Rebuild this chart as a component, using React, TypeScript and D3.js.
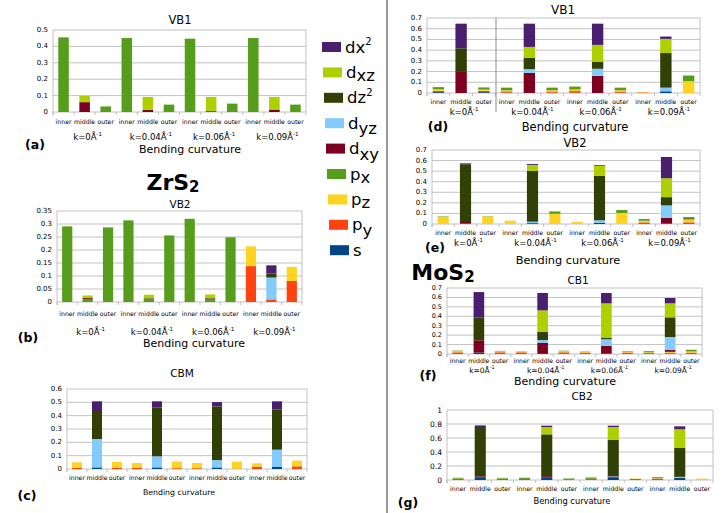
import React from 'react';
import * as d3 from 'd3';

// series order is the stacking order, bottom to top
const orbitals = ['s', 'py', 'pz', 'px', 'dxy', 'dyz', 'dz2', 'dxz', 'dx2'];
const orbitalColors = ['#004586', '#ff420e', '#ffd320', '#579d1c', '#7e0021', '#83caff', '#314004', '#aecf00', '#4b1f6f'];
const positions = ['inner', 'middle', 'outer'];
const curvatures = ['0', '0.04', '0.06', '0.09'];
const categories = curvatures.flatMap(k => positions.map(p => `${k}-${p}`));

// each panel: one row per orbital (same order as `orbitals`), one column per category
const zrs2VB1 = [
  [0, 0, 0, 0, 0, 0, 0, 0, 0, 0, 0, 0],
  [0, 0, 0, 0, 0, 0, 0, 0, 0, 0, 0, 0],
  [0, 0, 0, 0, 0, 0, 0, 0, 0, 0, 0, 0],
  [0.455, 0, 0.034, 0.451, 0, 0.045, 0.447, 0, 0.051, 0.451, 0, 0.045],
  [0, 0.06, 0, 0, 0.013, 0, 0, 0.005, 0, 0, 0.015, 0],
  [0, 0, 0, 0, 0, 0, 0, 0, 0, 0, 0, 0],
  [0, 0, 0, 0, 0, 0, 0, 0, 0, 0, 0, 0],
  [0, 0.038, 0, 0, 0.079, 0, 0, 0.087, 0, 0, 0.077, 0],
  [0, 0, 0, 0, 0, 0, 0, 0, 0, 0, 0, 0],
];
const zrs2VB2 = [
  [0, 0, 0, 0, 0, 0, 0, 0, 0, 0, 0, 0],
  [0, 0, 0, 0, 0, 0, 0, 0, 0, 0.138, 0.01, 0.081],
  [0, 0, 0, 0, 0, 0, 0, 0, 0, 0.076, 0, 0.054],
  [0.291, 0.011, 0.287, 0.314, 0.014, 0.256, 0.32, 0.013, 0.249, 0, 0, 0],
  [0, 0.004, 0, 0, 0.001, 0, 0, 0.002, 0, 0, 0, 0],
  [0, 0, 0, 0, 0, 0, 0, 0, 0, 0, 0.084, 0],
  [0, 0, 0, 0, 0, 0, 0, 0, 0, 0, 0.015, 0],
  [0, 0.01, 0, 0, 0.013, 0, 0, 0.014, 0, 0, 0, 0],
  [0, 0, 0, 0, 0, 0, 0, 0, 0, 0, 0.032, 0],
];
const zrs2CBM = [
  [0, 0.012, 0, 0, 0.012, 0, 0, 0.012, 0, 0, 0.015, 0],
  [0.01, 0, 0.01, 0.008, 0, 0.006, 0.006, 0, 0.003, 0.0175, 0, 0.02],
  [0.04, 0, 0.0425, 0.037, 0, 0.05, 0.039, 0, 0.052, 0.025, 0, 0.0425],
  [0, 0, 0, 0, 0, 0, 0, 0, 0, 0, 0, 0],
  [0, 0, 0, 0, 0, 0, 0, 0, 0, 0, 0, 0],
  [0, 0.213, 0, 0, 0.083, 0, 0, 0.055, 0, 0, 0.13, 0],
  [0, 0.2025, 0, 0, 0.3675, 0, 0, 0.4025, 0, 0, 0.3, 0],
  [0, 0, 0, 0, 0, 0, 0, 0, 0, 0, 0, 0],
  [0, 0.08, 0, 0, 0.045, 0, 0, 0.0325, 0, 0, 0.0625, 0],
];
const mos2VB1 = [
  [0.008, 0, 0.008, 0.003, 0, 0.002, 0.003, 0, 0.002, 0, 0.016, 0],
  [0.012, 0, 0.012, 0.012, 0, 0.012, 0.015, 0, 0.012, 0.005, 0, 0],
  [0.015, 0, 0.012, 0.01, 0, 0.012, 0.015, 0, 0.012, 0.003, 0, 0.11],
  [0.02, 0, 0.02, 0.025, 0, 0.024, 0.027, 0, 0.024, 0, 0, 0.053],
  [0, 0.204, 0, 0, 0.188, 0, 0, 0.16, 0, 0, 0, 0],
  [0, 0, 0, 0, 0.035, 0, 0, 0.066, 0, 0, 0.034, 0],
  [0, 0.213, 0, 0, 0.107, 0, 0, 0.066, 0, 0, 0.323, 0],
  [0, 0, 0, 0, 0.1, 0, 0, 0.157, 0, 0, 0.132, 0],
  [0, 0.23, 0, 0, 0.217, 0, 0, 0.198, 0, 0, 0.022, 0],
];
const mos2VB2 = [
  [0, 0.005, 0, 0, 0.008, 0, 0, 0.01, 0, 0, 0.004, 0],
  [0, 0, 0, 0, 0, 0, 0, 0, 0, 0.015, 0, 0.016],
  [0.068, 0, 0.07, 0.031, 0, 0.097, 0.019, 0, 0.104, 0.016, 0, 0.025],
  [0.004, 0, 0.003, 0, 0, 0.022, 0, 0, 0.028, 0.016, 0, 0.025],
  [0, 0.014, 0, 0, 0, 0, 0, 0, 0, 0, 0.053, 0],
  [0, 0, 0, 0, 0.014, 0, 0, 0.025, 0, 0, 0.119, 0],
  [0, 0.546, 0, 0, 0.48, 0, 0, 0.42, 0, 0, 0.078, 0],
  [0, 0, 0, 0, 0.057, 0, 0, 0.094, 0, 0, 0.179, 0],
  [0, 0.009, 0, 0, 0.009, 0, 0, 0.007, 0, 0, 0.201, 0],
];
const mos2CB1 = [
  [0, 0.015, 0, 0, 0.01, 0, 0, 0.008, 0, 0, 0.005, 0],
  [0.018, 0, 0.018, 0.018, 0, 0.018, 0.016, 0, 0.016, 0.01, 0.01, 0.015],
  [0.012, 0, 0.01, 0.01, 0, 0.012, 0.012, 0, 0.01, 0.008, 0.008, 0.012],
  [0.006, 0, 0.005, 0.002, 0, 0.005, 0.002, 0, 0.006, 0.012, 0, 0.018],
  [0, 0.13, 0, 0, 0.11, 0, 0, 0.08, 0, 0, 0.019, 0],
  [0, 0, 0, 0, 0.028, 0, 0, 0.068, 0, 0, 0.138, 0],
  [0, 0.244, 0, 0, 0.089, 0, 0, 0.014, 0, 0, 0.209, 0],
  [0, 0, 0, 0, 0.226, 0, 0, 0.367, 0, 0, 0.148, 0],
  [0, 0.268, 0, 0, 0.184, 0, 0, 0.11, 0, 0, 0.057, 0],
];
const mos2CB2 = [
  [0, 0.04, 0, 0, 0.04, 0, 0, 0.035, 0, 0, 0.03, 0],
  [0.015, 0, 0.015, 0.015, 0, 0.012, 0.018, 0, 0.015, 0.02, 0, 0.005],
  [0.005, 0, 0.005, 0, 0, 0, 0, 0, 0.005, 0.005, 0, 0.015],
  [0.012, 0, 0.01, 0.017, 0, 0.01, 0.018, 0, 0, 0.015, 0, 0],
  [0, 0.012, 0, 0, 0.015, 0, 0, 0.015, 0, 0, 0, 0],
  [0, 0, 0, 0, 0, 0, 0, 0.005, 0, 0, 0.015, 0],
  [0, 0.705, 0, 0, 0.597, 0, 0, 0.521, 0, 0, 0.417, 0],
  [0, 0, 0, 0, 0.105, 0, 0, 0.181, 0, 0, 0.262, 0],
  [0, 0.023, 0, 0, 0.019, 0, 0, 0.019, 0, 0, 0.043, 0],
];

const font = 'DejaVu Sans, sans-serif';
const grid = '#b3b3b3';

type PanelProps = {
  data: number[][];
  left: number; right: number; top: number; bottom: number;
  max: number; step: number;
  title: string; titleX: number; titleY: number; titleSize: number;
  catY: number; kY?: number; kSize?: number;
  xlabX: number; xlabY: number; xlabSize: number;
  tag: string; tagX: number; tagY: number;
  tickSize?: number;
};

const Panel = (p: PanelProps) => {
  const rows = categories.map((c, i) => {
    const r: any = { cat: c };
    orbitals.forEach((o, j) => { r[o] = p.data[j][i]; });
    return r;
  });
  const series = d3.stack().keys(orbitals)(rows);
  const x = d3.scaleBand().domain(categories).range([p.left, p.right]);
  const y = d3.scaleLinear().domain([0, p.max]).range([p.bottom, p.top]);
  const ticks = d3.range(0, p.max + p.step / 2, p.step);
  const bw = x.bandwidth() * 0.5;
  const fmt = (v: number) => String(+v.toFixed(2));
  const ts = p.tickSize ?? 7;

  return (
    <g fontFamily={font}>
      {ticks.map(t => (
        <g key={t}>
          <line x1={p.left} x2={p.right} y1={y(t)} y2={y(t)} stroke={grid} strokeWidth={0.8} />
          <text x={p.left - 5} y={y(t)} fontSize={ts} textAnchor="end" dominantBaseline="central">{fmt(t)}</text>
        </g>
      ))}
      <line x1={p.left} x2={p.left} y1={p.top} y2={p.bottom + 3} stroke={grid} strokeWidth={0.8} />
      <line x1={p.right} x2={p.right} y1={p.top} y2={p.bottom + 3} stroke={grid} strokeWidth={0.8} />
      {categories.map(c => (
        <line key={c} x1={x(c)!} x2={x(c)!} y1={p.bottom} y2={p.bottom + 3} stroke={grid} strokeWidth={0.8} />
      ))}
      {series.map((s, j) => (
        <g key={s.key} fill={orbitalColors[j]}>
          {s.map((d, i) => (d[1] - d[0] > 0 ? (
            <rect key={i} x={x(categories[i])! + (x.bandwidth() - bw) / 2} width={bw}
              y={y(d[1])} height={y(d[0]) - y(d[1])} />
          ) : null))}
        </g>
      ))}
      {categories.map((c, i) => (
        <text key={c} x={x(c)! + x.bandwidth() / 2} y={p.catY} fontSize={6.2}
          textAnchor="middle" dominantBaseline="central">{positions[i % 3]}</text>
      ))}
      {p.kY !== undefined && curvatures.map((k, g) => (
        <text key={k} x={x(categories[g * 3 + 1])! + x.bandwidth() / 2 + 3} y={p.kY} fontSize={p.kSize ?? 8.5}
          textAnchor="middle" dominantBaseline="central">
          k={k}Å<tspan dy={-3.5} fontSize={(p.kSize ?? 8.5) * 0.65}>-1</tspan>
        </text>
      ))}
      <text x={p.titleX} y={p.titleY} fontSize={p.titleSize} textAnchor="middle" dominantBaseline="central">{p.title}</text>
      <text x={p.xlabX} y={p.xlabY} fontSize={p.xlabSize} textAnchor="middle" dominantBaseline="central">Bending curvature</text>
      <text x={p.tagX} y={p.tagY} fontSize={12.5} fontWeight="bold" textAnchor="middle" dominantBaseline="central">{p.tag}</text>
    </g>
  );
};

const legendOrder = ['dx2', 'dxz', 'dz2', 'dyz', 'dxy', 'px', 'pz', 'py', 's'];

const legendLabel = (o: string) => {
  if (o === 'dx2') return <>dx<tspan dy={-6} fontSize={10}>2</tspan></>;
  if (o === 'dz2') return <>dz<tspan dy={-6} fontSize={10}>2</tspan></>;
  if (o === 's') return <>s</>;
  const main = o[0];
  const sub = o.slice(1);
  const shift = sub.includes('y') ? 5 : 3;
  return <>{main}<tspan dy={shift}>{sub}</tspan></>;
};

const Legend = () => (
  <g fontFamily={font}>
    {legendOrder.map((o, i) => {
      const cy = 47 + i * 25.4;
      return (
        <g key={o}>
          <rect x={322 + i} y={cy - 5} width={19} height={10} fill={orbitalColors[orbitals.indexOf(o)]} />
          <text x={345 + i} y={cy} fontSize={16.5} dominantBaseline="central">{legendLabel(o)}</text>
        </g>
      );
    })}
  </g>
);

const App = () => (
  <svg width={725} height={513} style={{ position: 'absolute', left: 0, top: 0, background: '#fff' }}>
    <Panel data={zrs2VB1} left={53} right={306} top={30} bottom={112} max={0.5} step={0.1}
      title="VB1" titleX={180} titleY={20} titleSize={11.5} catY={121} kY={137}
      xlabX={190} xlabY={149} xlabSize={11} tag="(a)" tagX={35} tagY={144} />
    <text x={173} y={182} fontFamily={font} fontWeight="bold" fontSize={22} textAnchor="middle" dominantBaseline="central">
      ZrS<tspan dy={5} fontSize={15}>2</tspan>
    </text>
    <Panel data={zrs2VB2} left={57} right={302} top={211} bottom={302} max={0.35} step={0.05}
      title="VB2" titleX={180} titleY={204} titleSize={10.5} catY={313} kY={332}
      xlabX={194} xlabY={343} xlabSize={11} tag="(b)" tagX={28} tagY={337} />
    <Panel data={zrs2CBM} left={67} right={307} top={389} bottom={469} max={0.6} step={0.1}
      title="CBM" titleX={182} titleY={373} titleSize={10.5} catY={477}
      xlabX={179} xlabY={492} xlabSize={7.8} tag="(c)" tagX={27} tagY={495} />

    <line x1={387} x2={387} y1={0} y2={513} stroke="#555" strokeWidth={1.2} />
    <Legend />

    <Panel data={mos2VB1} left={427} right={700} top={18} bottom={93} max={0.7} step={0.1}
      title="VB1" titleX={563} titleY={10} titleSize={12} catY={101} kY={112}
      xlabX={575} xlabY={127} xlabSize={11.5} tag="(d)" tagX={438} tagY={126} />
    <line x1={496} x2={496} y1={18} y2={112} stroke="#8a8a8a" strokeWidth={1} />
    <Panel data={mos2VB2} left={432} right={700} top={150} bottom={224} max={0.7} step={0.1}
      title="VB2" titleX={575} titleY={143} titleSize={11.5} catY={232} kY={243}
      xlabX={568} xlabY={260} xlabSize={11.3} tag="(e)" tagX={435} tagY={247} />
    <text x={443} y={272} fontFamily={font} fontWeight="bold" fontSize={22} textAnchor="middle" dominantBaseline="central">
      MoS<tspan dy={5} fontSize={15}>2</tspan>
    </text>
    <Panel data={mos2CB1} left={447} right={702} top={288} bottom={354} max={0.7} step={0.1}
      title="CB1" titleX={578} titleY={280} titleSize={10.5} catY={360} kY={370} kSize={7.5}
      xlabX={565} xlabY={381} xlabSize={11} tag="(f)" tagX={428} tagY={375} tickSize={6.5} />
    <Panel data={mos2CB2} left={447} right={713} top={410} bottom={480} max={1} step={0.2}
      title="CB2" titleX={582} titleY={396} titleSize={10.5} catY={488}
      xlabX={572} xlabY={501} xlabSize={8.3} tag="(g)" tagX={408} tagY={502} tickSize={7.5} />
  </svg>
);

export default App;
